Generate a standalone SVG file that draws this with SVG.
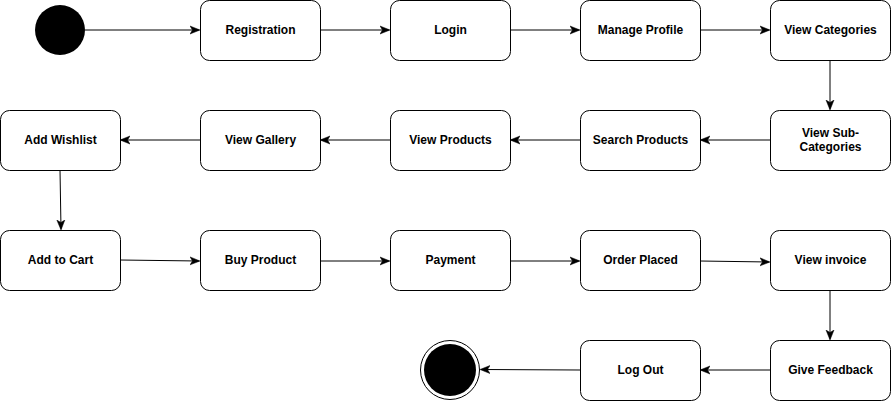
<svg xmlns="http://www.w3.org/2000/svg" width="891" height="401" viewBox="0 0 891 401">
<style>
.n rect{fill:#fff;stroke:#000;stroke-width:1}
.n text{font-family:"Liberation Sans",Arial,sans-serif;font-size:12px;font-weight:bold;fill:#000;text-anchor:middle}
.e path{fill:none;stroke:#000;stroke-width:1}
</style>
<defs>
<marker id="a" viewBox="0 0 10 10" refX="9" refY="5" markerWidth="10" markerHeight="10" markerUnits="userSpaceOnUse" orient="auto">
<path d="M0,1 L10,5 L0,9 L2.5,5 Z" fill="#000" stroke="#000" stroke-width="0.5"/>
</marker>
</defs>
<rect width="891" height="401" fill="#fff"/>
<g id="start"><circle cx="60" cy="30" r="25" fill="#000"/></g>
<g id="end"><circle cx="450" cy="370" r="29.5" fill="#fff" stroke="#000" stroke-width="1"/><circle cx="450" cy="370" r="26" fill="#000"/></g>
<g class="e" id="connectors">
<path d="M85,30 H199" marker-end="url(#a)"/>
<path d="M320,30 H389" marker-end="url(#a)"/>
<path d="M510,30 H579" marker-end="url(#a)"/>
<path d="M700,30 H769" marker-end="url(#a)"/>
<path d="M830,60 V109" marker-end="url(#a)"/>
<path d="M770,140 H701" marker-end="url(#a)"/>
<path d="M580,140 H511" marker-end="url(#a)"/>
<path d="M390,140 H321" marker-end="url(#a)"/>
<path d="M200,140 H121" marker-end="url(#a)"/>
<path d="M60,170 L61,229" marker-end="url(#a)"/>
<path d="M120,260 L199,261" marker-end="url(#a)"/>
<path d="M320,261 H389" marker-end="url(#a)"/>
<path d="M510,261 H579" marker-end="url(#a)"/>
<path d="M700,261 L769,262" marker-end="url(#a)"/>
<path d="M830,290 V339" marker-end="url(#a)"/>
<path d="M770,370 H701" marker-end="url(#a)"/>
<path d="M580,370 L481,369.5" marker-end="url(#a)"/>
</g>
<g class="n" id="registration"><rect x="200.5" y="0.5" width="120" height="60" rx="9"/><text x="260.5" y="33.5">Registration</text></g>
<g class="n" id="login"><rect x="390.5" y="0.5" width="120" height="60" rx="9"/><text x="450.5" y="33.5">Login</text></g>
<g class="n" id="manage-profile"><rect x="580.5" y="0.5" width="120" height="60" rx="9"/><text x="640.5" y="33.5">Manage Profile</text></g>
<g class="n" id="view-categories"><rect x="770.5" y="0.5" width="120" height="60" rx="9"/><text x="830.5" y="33.5">View Categories</text></g>
<g class="n" id="view-sub-categories"><rect x="770.5" y="110.5" width="120" height="60" rx="9"/><text x="830.5" y="136.5">View Sub-</text><text x="830.5" y="150.5">Categories</text></g>
<g class="n" id="search-products"><rect x="580.5" y="110.5" width="120" height="60" rx="9"/><text x="640.5" y="143.5">Search Products</text></g>
<g class="n" id="view-products"><rect x="390.5" y="110.5" width="120" height="60" rx="9"/><text x="450.5" y="143.5">View Products</text></g>
<g class="n" id="view-gallery"><rect x="200.5" y="110.5" width="120" height="60" rx="9"/><text x="260.5" y="143.5">View Gallery</text></g>
<g class="n" id="add-wishlist"><rect x="0.5" y="110.5" width="120" height="60" rx="9"/><text x="60.5" y="143.5">Add Wishlist</text></g>
<g class="n" id="add-to-cart"><rect x="0.5" y="230.5" width="120" height="60" rx="9"/><text x="60.5" y="263.5">Add to Cart</text></g>
<g class="n" id="buy-product"><rect x="200.5" y="230.5" width="120" height="60" rx="9"/><text x="260.5" y="263.5">Buy Product</text></g>
<g class="n" id="payment"><rect x="390.5" y="230.5" width="120" height="60" rx="9"/><text x="450.5" y="263.5">Payment</text></g>
<g class="n" id="order-placed"><rect x="580.5" y="230.5" width="120" height="60" rx="9"/><text x="640.5" y="263.5">Order Placed</text></g>
<g class="n" id="view-invoice"><rect x="770.5" y="230.5" width="120" height="60" rx="9"/><text x="830.5" y="263.5">View invoice</text></g>
<g class="n" id="give-feedback"><rect x="770.5" y="340.5" width="120" height="60" rx="9"/><text x="830.5" y="373.5">Give Feedback</text></g>
<g class="n" id="log-out"><rect x="580.5" y="340.5" width="120" height="60" rx="9"/><text x="640.5" y="373.5">Log Out</text></g>
</svg>
